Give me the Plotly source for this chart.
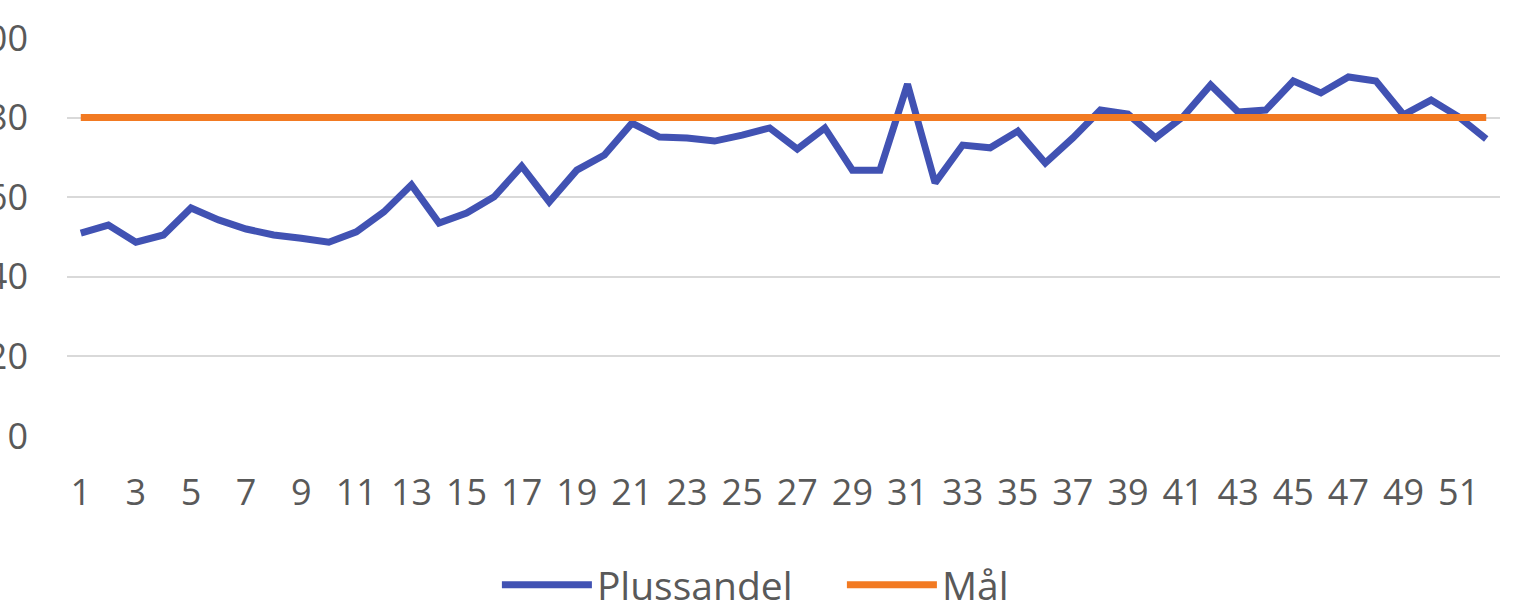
import plotly.graph_objects as go

# Week numbers 1..52
weeks = list(range(1, 53))

# Share of plus results per week (%)
plussandel = [
    51.0, 53.0, 48.7, 50.5, 57.3, 54.3, 52.0, 50.5, 49.7, 48.7,
    51.3, 56.3, 63.1, 53.5, 56.0, 60.1, 67.8, 58.8, 66.8, 70.6,
    78.6, 75.1, 74.9, 74.1, 75.6, 77.4, 72.1, 77.4, 66.8, 66.8,
    88.4, 63.6, 73.1, 72.4, 76.6, 68.6, 74.9, 81.9, 80.9, 74.9,
    80.2, 88.2, 81.4, 81.9, 89.2, 86.2, 90.2, 89.2, 80.7, 84.4,
    80.2, 74.6,
]

# Target level (%)
maal = [80] * len(weeks)

y_ticks = [0, 20, 40, 60, 80, 100]
x_ticks = list(range(1, 53, 2))

BLUE = "#4152B3"
ORANGE = "#F27A22"
TEXT = "#595959"
GRID = "#D9D9D9"
FONT = "Open Sans"

fig = go.Figure()
fig.add_trace(go.Scatter(
    x=weeks, y=plussandel, name="Plussandel", mode="lines",
    line=dict(color=BLUE, width=7),
))
fig.add_trace(go.Scatter(
    x=weeks, y=maal, name="Mål", mode="lines",
    line=dict(color=ORANGE, width=7),
))

fig.update_layout(
    width=1514, height=610,
    margin=dict(l=67, r=14, t=38, b=174, autoexpand=False),
    paper_bgcolor="white", plot_bgcolor="white",
    font=dict(family=FONT, size=36, color=TEXT),
    showlegend=True,
    legend=dict(
        orientation="h", x=0.3, xanchor="left",
        y=-0.374, yanchor="middle",
        font=dict(family=FONT, size=39, color=TEXT),
        itemwidth=90, traceorder="normal",
        entrywidth=240, entrywidthmode="pixels",
    ),
    xaxis=dict(
        type="linear", range=[0.5, 52.5],
        tickmode="array", tickvals=x_ticks, ticktext=[str(v) for v in x_ticks],
        showgrid=False, zeroline=False, showline=False, ticks="",
        ticklabelstandoff=32, automargin=False,
        tickfont=dict(family=FONT, size=36, color=TEXT),
    ),
    yaxis=dict(
        range=[0, 100], tickmode="array", tickvals=y_ticks,
        ticktext=[str(v) for v in y_ticks],
        showgrid=True, gridcolor=GRID, gridwidth=2,
        zeroline=False, showline=False, ticks="",
        ticklabelstandoff=38, automargin=False,
        tickfont=dict(family=FONT, size=36, color=TEXT),
    ),
)

fig.write_html("out.html")
